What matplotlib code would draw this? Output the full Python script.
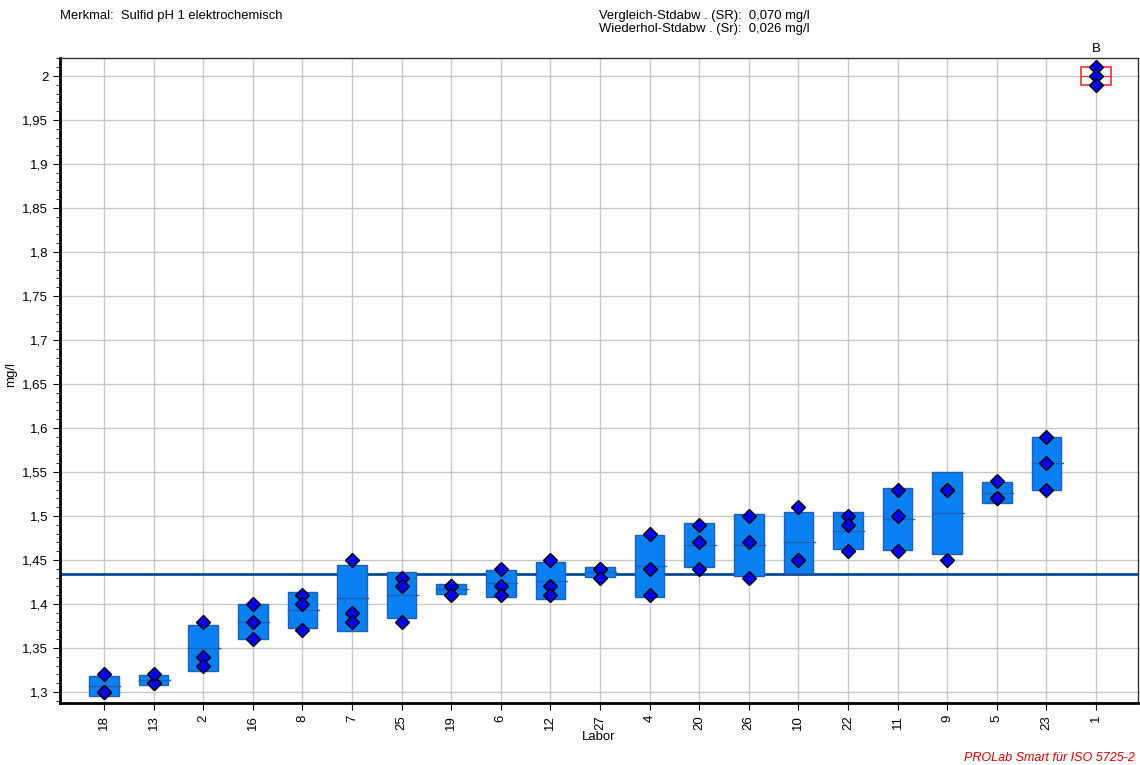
import numpy as np
import matplotlib
matplotlib.use("Agg")
import matplotlib.pyplot as plt
from matplotlib.patches import Rectangle
from matplotlib.ticker import MultipleLocator, FuncFormatter

plt.rcParams['font.family'] = ['Liberation Sans', 'DejaVu Sans']

# Laboratories in plotted order and their three replicate results (mg/l)
labs = ["18", "13", "2", "16", "8", "7", "25", "19", "6", "12", "27",
        "4", "20", "26", "10", "22", "11", "9", "5", "23", "1"]
rep1 = [1.30, 1.31, 1.38, 1.40, 1.41, 1.45, 1.43, 1.42, 1.44, 1.45, 1.44,
        1.48, 1.49, 1.50, 1.51, 1.50, 1.53, 1.53, 1.54, 1.59, 2.01]
rep2 = [1.30, 1.31, 1.34, 1.38, 1.40, 1.39, 1.42, 1.42, 1.42, 1.42, 1.44,
        1.44, 1.47, 1.47, 1.45, 1.49, 1.50, 1.53, 1.52, 1.56, 2.00]
rep3 = [1.32, 1.32, 1.33, 1.36, 1.37, 1.38, 1.38, 1.41, 1.41, 1.41, 1.43,
        1.41, 1.44, 1.43, 1.45, 1.46, 1.46, 1.45, 1.52, 1.53, 1.99]
# Outlier flags ("B" marks a lab excluded from the evaluation)
flags = [""] * 20 + ["B"]

header_left = "Merkmal:  Sulfid pH 1 elektrochemisch"
header_right = ["Vergleich-Stdabw . (SR):  0,070 mg/l",
                "Wiederhol-Stdabw . (Sr):  0,026 mg/l"]
footer = "PROLab Smart für ISO 5725-2"

values = np.array([rep1, rep2, rep3])
means = values.mean(axis=0)
sds = values.std(axis=0, ddof=1)
valid = np.array([f == "" for f in flags])
grand_mean = means[valid].mean()

fig = plt.figure(figsize=(11.4, 7.65), dpi=100)
ax = fig.add_axes([60 / 1140, 62 / 765, 1078 / 1140, 645 / 765])

x = np.arange(len(labs))
box_w = 0.6

for i in range(len(labs)):
    lo, hi = means[i] - sds[i], means[i] + sds[i]
    if flags[i]:
        ax.add_patch(Rectangle((x[i] - box_w / 2, lo), box_w, hi - lo,
                               facecolor="none", edgecolor="#ff3030",
                               linewidth=1.2, zorder=3))
        ax.plot([x[i] - box_w / 2, x[i] + box_w / 2], [means[i]] * 2,
                color="#ff3030", linewidth=0.8, zorder=3)
        ax.text(x[i], 2.0307, flags[i], ha="center", va="center", fontsize=9.5)
    else:
        ax.add_patch(Rectangle((x[i] - box_w / 2, lo), box_w, hi - lo,
                               facecolor="#0a80f5", edgecolor="#2060b0",
                               linewidth=1.0, zorder=3))
        ax.plot([x[i] - box_w / 2, x[i] + box_w / 2 + 0.03], [means[i]] * 2,
                color="#2060b0", linewidth=1.0, zorder=4)
    ax.plot([x[i]] * 3, values[:, i], linestyle="none", marker="D",
            markersize=6.8, markerfacecolor="#0000ee", markeredgecolor="black",
            markeredgewidth=1.0, zorder=5)

ax.axhline(grand_mean, color="#0b4a96", linewidth=2.0, zorder=2)

ax.set_xlim(-0.887, len(labs) - 1 + 0.847)
ax.set_ylim(1.2875, 2.0205)
ax.set_xticks(x)
ax.set_xticklabels(labs, rotation=90, fontsize=9.5)
ax.yaxis.set_major_locator(MultipleLocator(0.05))
ax.yaxis.set_minor_locator(MultipleLocator(0.01))


def comma_fmt(v, pos):
    s = f"{v:.2f}".rstrip("0").rstrip(".")
    return s.replace(".", ",")


ax.yaxis.set_major_formatter(FuncFormatter(comma_fmt))
ax.tick_params(axis="y", which="major", length=5, labelsize=9.5, direction="out")
ax.tick_params(axis="y", which="minor", length=3, direction="out")
ax.tick_params(axis="x", length=5, direction="out")

ax.grid(True, which="major", color="#c8c8c8", linewidth=1.0, zorder=0)
ax.set_axisbelow(True)

for side in ("left", "bottom"):
    ax.spines[side].set_linewidth(2.0)
    ax.spines[side].set_color("black")
for side in ("top", "right"):
    ax.spines[side].set_linewidth(1.0)
    ax.spines[side].set_color("#333333")

ax.set_xlabel("Labor", fontsize=9.5, labelpad=1)
ax.set_ylabel("mg/l", fontsize=9.5)
ax.yaxis.set_label_coords(-(60 - 17) / 1078, 0.51)

fig.text(60 / 1140, 1 - 16 / 765, header_left, fontsize=9.4, va="center")
fig.text(599 / 1140, 1 - 16 / 765, header_right[0], fontsize=9.4, va="center")
fig.text(599 / 1140, 1 - 29 / 765, header_right[1], fontsize=9.4, va="center")
fig.text(1135 / 1140, 1 - 758 / 765, footer, fontsize=9, color="#e00000",
         style="italic", ha="right", va="center")

fig.savefig("out.png", dpi=100)
